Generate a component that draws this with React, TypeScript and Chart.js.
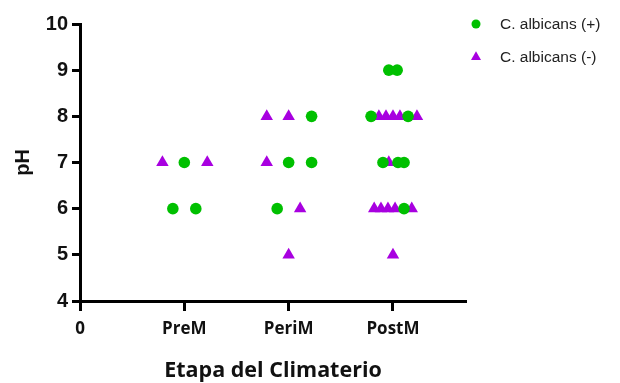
import React, { useEffect, useRef } from 'react';
import { Chart, registerables } from 'chart.js';

Chart.register(...registerables);

const categories = ['PreM', 'PeriM', 'PostM'];
const xTickLabels = ['0', ...categories];
const yTicks = [4, 5, 6, 7, 8, 9, 10];

// C. albicans (+)  — stage index (1 = PreM, 2 = PeriM, 3 = PostM), horizontal scatter offset, pH
const posStage = [1, 1, 1, 2, 2, 2, 2, 3, 3, 3, 3, 3, 3, 3, 3];
const posJitter = [0, -0.11, 0.11, 0.22, 0, 0.22, -0.11, -0.04, 0.04, -0.21, 0.145, -0.096, 0.048, 0.106, 0.106];
const posPH = [7, 6, 6, 8, 7, 7, 6, 9, 9, 8, 8, 7, 7, 7, 6];

// C. albicans (-)
const negStage = [1, 1, 2, 2, 2, 2, 2, 3, 3, 3, 3, 3, 3, 3, 3, 3, 3, 3, 3];
const negJitter = [-0.21, 0.22, -0.21, 0, -0.21, 0.11, 0, -0.135, -0.067, 0, 0.067, 0.23, -0.04, -0.18, -0.115, -0.048, 0.02, 0.18, 0];
const negPH = [7, 7, 8, 8, 7, 6, 5, 8, 8, 8, 8, 8, 7, 6, 6, 6, 6, 6, 5];

const seriesNames = ['C. albicans (+)', 'C. albicans (-)'];
const GREEN = '#00C000';
const PURPLE = '#A800E0';

const toPoints = (stage: number[], jitter: number[], vals: number[]) =>
  stage.map((s, i) => ({ x: s + jitter[i], y: vals[i] }));

const sideLegend = {
  id: 'sideLegend',
  afterDraw(chart: any) {
    const { ctx, chartArea } = chart;
    const mx = chartArea.right + 10;
    ctx.save();
    chart.data.datasets.forEach((ds: any, i: number) => {
      const my = chartArea.top + i * 33;
      ctx.fillStyle = ds.backgroundColor;
      ctx.beginPath();
      if (ds.pointStyle === 'triangle') {
        const s = 10;
        const h = s * Math.sqrt(3) / 2;
        ctx.moveTo(mx, my - h * 2 / 3);
        ctx.lineTo(mx + s / 2, my + h / 3);
        ctx.lineTo(mx - s / 2, my + h / 3);
        ctx.closePath();
      } else {
        ctx.arc(mx, my, 4.5, 0, Math.PI * 2);
      }
      ctx.fill();
      ctx.fillStyle = '#222';
      ctx.font = '15.5px "Liberation Sans", Arial, sans-serif';
      ctx.textAlign = 'left';
      ctx.textBaseline = 'middle';
      ctx.fillText(ds.label, mx + 24, my + 1);
    });
    ctx.restore();
  },
};

export default function App() {
  const ref = useRef<HTMLCanvasElement | null>(null);

  useEffect(() => {
    if (!ref.current) return;
    const chart = new Chart(ref.current, {
      type: 'scatter',
      data: {
        datasets: [
          {
            label: seriesNames[0],
            data: toPoints(posStage, posJitter, posPH),
            backgroundColor: GREEN,
            borderColor: GREEN,
            borderWidth: 0,
            pointStyle: 'circle',
            pointRadius: 5.8,
            pointHoverRadius: 5.8,
          },
          {
            label: seriesNames[1],
            data: toPoints(negStage, negJitter, negPH),
            backgroundColor: PURPLE,
            borderColor: PURPLE,
            borderWidth: 0,
            pointStyle: 'triangle',
            pointRadius: 7.2,
            pointHoverRadius: 7.2,
          },
        ],
      },
      options: {
        animation: false,
        responsive: true,
        maintainAspectRatio: false,
        layout: { padding: { top: 24, right: 154, left: 0, bottom: 0 } },
        plugins: { legend: { display: false }, tooltip: { enabled: false } },
        scales: {
          x: {
            type: 'linear',
            min: 0,
            max: 3.7,
            afterBuildTicks: (s: any) => {
              s.ticks = xTickLabels.map((_, i) => ({ value: i }));
            },
            afterFit: (s: any) => {
              s.height = 82;
            },
            ticks: {
              autoSkip: false,
              maxRotation: 0,
              padding: 8,
              color: '#111',
              font: { family: '"Open Sans", sans-serif', weight: 'bold', size: 17 },
              callback: (v: any) => xTickLabels[Math.round(v)] ?? '',
            },
            grid: { drawOnChartArea: false, tickLength: 10, tickWidth: 3, tickColor: '#000' },
            border: { display: true, color: '#000', width: 3 },
            title: {
              display: true,
              text: 'Etapa del Climaterio',
              color: '#111',
              font: { family: '"Open Sans", sans-serif', weight: 'bold', size: 21.5 },
              padding: { top: 0, bottom: -1 },
            },
          },
          y: {
            min: yTicks[0],
            max: yTicks[yTicks.length - 1],
            afterBuildTicks: (s: any) => {
              s.ticks = yTicks.map((v) => ({ value: v }));
            },
            afterFit: (s: any) => {
              s.width = 80;
            },
            ticks: {
              padding: 4,
              color: '#111',
              font: { family: '"Liberation Sans", Arial, sans-serif', weight: 'bold', size: 20 },
            },
            grid: { drawOnChartArea: false, tickLength: 8, tickWidth: 3, tickColor: '#000' },
            border: { display: true, color: '#000', width: 3 },
            title: {
              display: true,
              text: 'pH',
              color: '#111',
              font: { family: '"Liberation Sans", Arial, sans-serif', weight: 'bold', size: 20 },
              padding: { top: 11, bottom: 0 },
            },
          },
        },
      },
      plugins: [sideLegend],
    } as any);
    return () => chart.destroy();
  }, []);

  return (
    <div style={{ position: 'fixed', left: 0, top: 0, width: 620, height: 383, background: '#fff' }}>
      <canvas ref={ref} />
    </div>
  );
}
